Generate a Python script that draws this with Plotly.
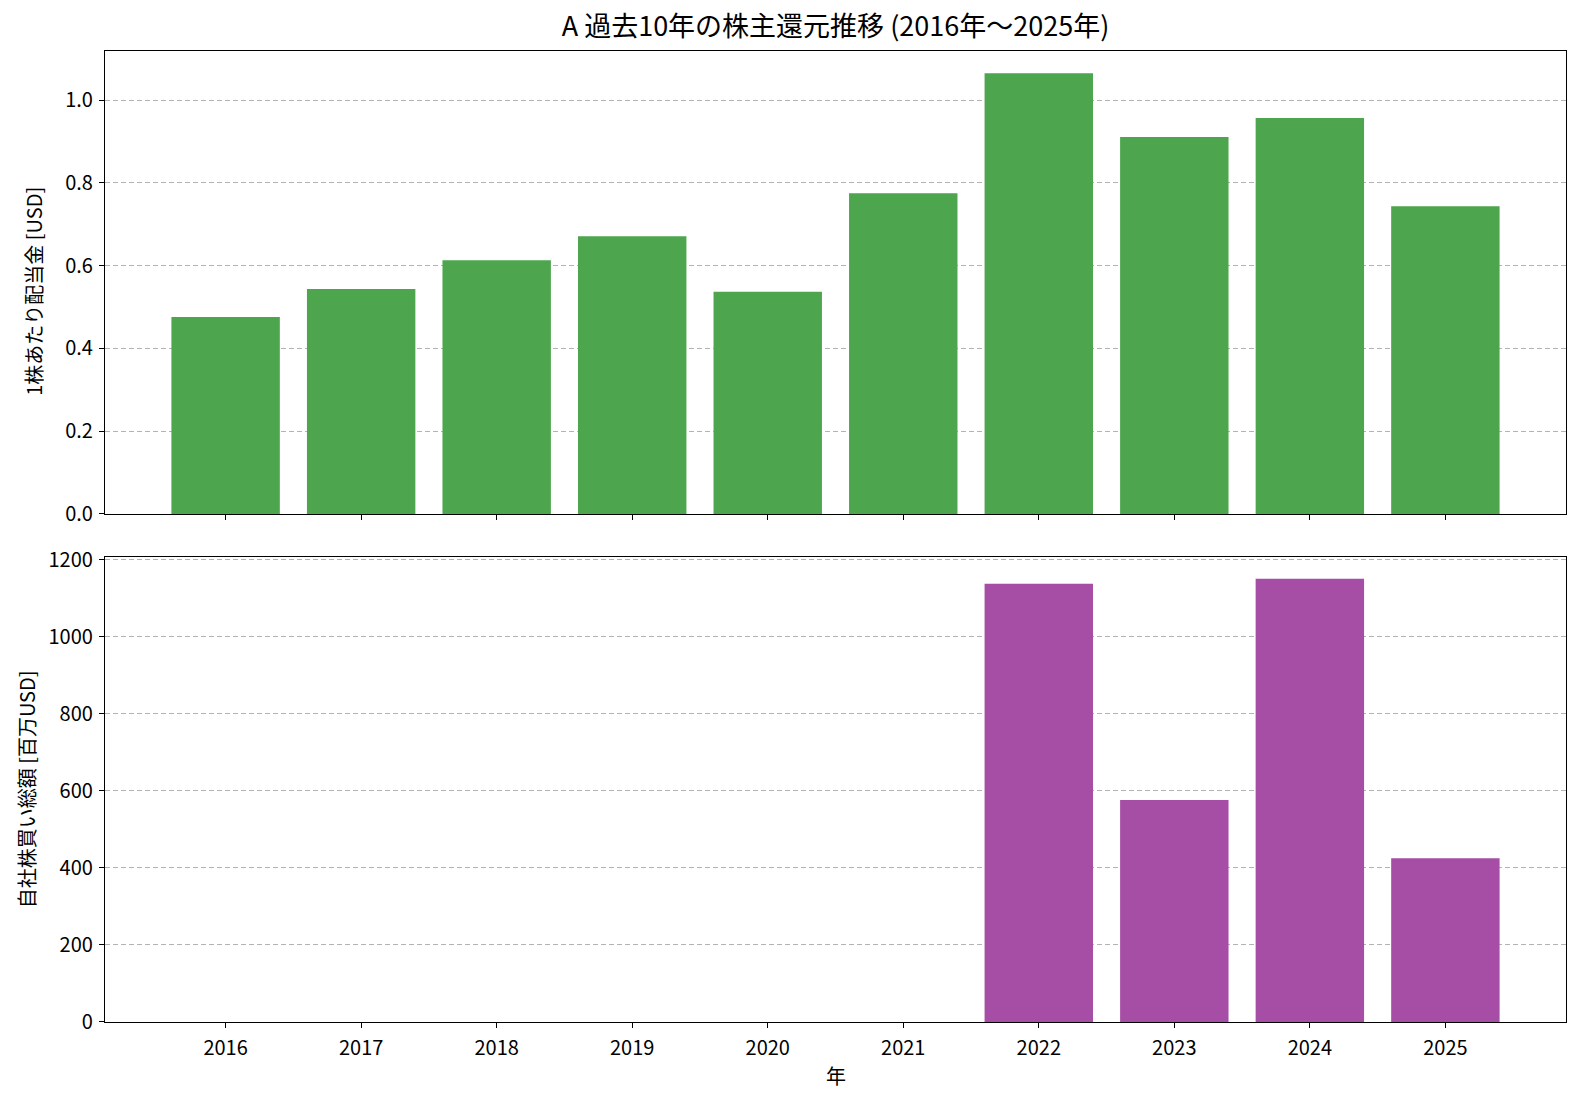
import plotly.graph_objects as go
from plotly.subplots import make_subplots

years = ["2016", "2017", "2018", "2019", "2020", "2021", "2022", "2023", "2024", "2025"]
dividends = [0.476, 0.544, 0.613, 0.671, 0.537, 0.775, 1.065, 0.911, 0.957, 0.744]
buybacks = [0, 0, 0, 0, 0, 0, 1137, 576, 1150, 425]

title_text = "A 過去10年の株主還元推移 (2016年～2025年)"
ylabel_top = "1株あたり配当金 [USD]"
ylabel_bottom = "自社株買い総額 [百万USD]"
xlabel = "年"

FONT = "Noto Sans CJK JP, IPAexGothic, sans-serif"
FS = 20

fig = make_subplots(rows=2, cols=1, shared_xaxes=True, vertical_spacing=0.0)

fig.add_trace(go.Bar(x=years, y=dividends, width=0.8, marker=dict(color="#4da64d", line=dict(width=0)),
                     showlegend=False), row=1, col=1)
fig.add_trace(go.Bar(x=years, y=buybacks, width=0.8, marker=dict(color="#a64da6", line=dict(width=0)),
                     showlegend=False), row=2, col=1)

axis_common = dict(showline=True, linecolor="black", linewidth=1.2, mirror=True,
                   ticks="outside", ticklen=5, tickwidth=1.2, tickcolor="black",
                   tickfont=dict(family=FONT, size=FS, color="black"), zeroline=False)

fig.update_xaxes(**axis_common, showgrid=False, range=[-0.89, 9.89], type="category")
fig.update_xaxes(showticklabels=False, row=1, col=1)
fig.update_xaxes(showticklabels=True, ticklabelstandoff=3, row=2, col=1)
fig.update_yaxes(**axis_common, showgrid=True, gridcolor="#b3b3b3", gridwidth=1, griddash="5px,3px",
                 ticklabelstandoff=2)
fig.update_yaxes(range=[0, 1.119], dtick=0.2, tickformat=".1f", row=1, col=1)
fig.update_yaxes(range=[0, 1207.5], dtick=200, tickformat="d", row=2, col=1)

fig.update_layout(
    width=1582, height=1102,
    margin=dict(l=105, r=16, t=51, b=80),
    plot_bgcolor="white", paper_bgcolor="white",
    bargap=0.2,
    font=dict(family=FONT, color="black"),
    title=dict(text=title_text, x=(105 + 1566) / 2 / 1582, xanchor="center", y=1 - 27 / 1102, yanchor="middle",
               font=dict(family=FONT, size=27, color="black")),
    yaxis=dict(domain=[0.5232, 1.0]),
    yaxis2=dict(domain=[0.0, 0.4792]),
    annotations=[
        dict(text=ylabel_top, xref="paper", yref="y domain", x=-71 / 1461, y=0.48, xanchor="center", yanchor="middle",
             textangle=-90, showarrow=False, font=dict(family=FONT, size=FS, color="black")),
        dict(text=ylabel_bottom, xref="paper", yref="y2 domain", x=-79 / 1461, y=0.5, xanchor="center", yanchor="middle",
             textangle=-90, showarrow=False, font=dict(family=FONT, size=FS, color="black")),
        dict(text=xlabel, xref="paper", yref="paper", x=0.5, y=-53 / 971, xanchor="center", yanchor="middle",
             showarrow=False, font=dict(family=FONT, size=FS, color="black")),
    ],
)

fig.write_html("out.html")
